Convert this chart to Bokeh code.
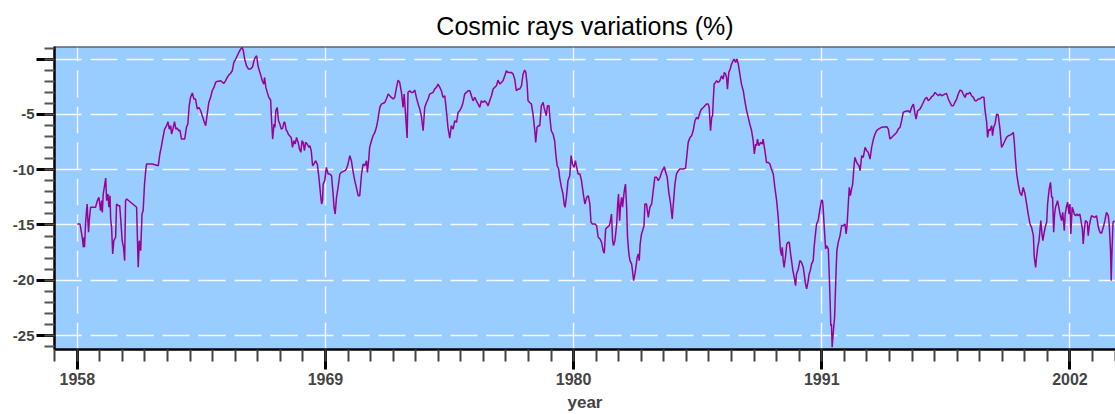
from bokeh.plotting import figure
from bokeh.models import FixedTicker, Span
from bokeh.embed import file_html
from bokeh.resources import INLINE

# ---- data ----
years = [
1958.00,1958.12,1958.22,1958.27,1958.30,1958.32,1958.37,1958.41,1958.44,1958.47,1958.50,1958.53,1958.59,1958.81,1958.89,1958.96,
1959.03,1959.08,1959.11,1959.15,1959.21,1959.26,1959.30,1959.36,1959.40,1959.45,1959.48,1959.52,1959.57,1959.62,1959.70,1959.74,
1959.82,1959.88,1959.92,1959.99,1960.05,1960.10,1960.14,1960.19,1960.63,1960.66,1960.70,1960.75,1960.81,1960.87,1960.92,1960.98,
1961.04,1961.07,1961.32,1961.59,1961.66,1961.72,1961.80,1961.87,1961.96,1962.02,1962.08,1962.14,1962.18,1962.24,1962.31,1962.37,
1962.43,1962.49,1962.55,1962.62,1962.76,1962.84,1962.90,1962.96,1963.02,1963.10,1963.17,1963.24,1963.32,1963.39,1963.47,1963.54,
1963.61,1963.69,1963.76,1963.83,1963.91,1963.98,1964.06,1964.13,1964.20,1964.35,1964.50,1964.57,1964.65,1964.72,1964.79,1964.87,
1964.94,1965.02,1965.09,1965.16,1965.24,1965.31,1965.36,1965.42,1965.50,1965.59,1965.68,1965.77,1965.83,1965.89,1965.95,1966.01,
1966.07,1966.12,1966.20,1966.27,1966.30,1966.36,1966.42,1966.49,1966.57,1966.61,1966.66,1966.72,1966.76,1966.80,1966.86,1966.92,
1966.98,1967.04,1967.10,1967.16,1967.20,1967.26,1967.31,1967.35,1967.41,1967.48,1967.54,1967.60,1967.66,1967.72,1967.79,1967.85,
1967.91,1967.96,1968.01,1968.07,1968.12,1968.19,1968.27,1968.31,1968.37,1968.43,1968.49,1968.56,1968.64,1968.71,1968.78,1968.83,
1968.87,1968.90,1968.97,1969.04,1969.12,1969.19,1969.27,1969.34,1969.38,1969.43,1969.49,1969.56,1969.64,1969.71,1969.86,1969.93,
1970.00,1970.08,1970.15,1970.23,1970.30,1970.37,1970.45,1970.52,1970.60,1970.67,1970.74,1970.82,1970.86,1970.92,1970.96,1971.04,
1971.11,1971.19,1971.26,1971.33,1971.41,1971.48,1971.63,1971.70,1971.78,1971.85,1971.92,1972.00,1972.07,1972.15,1972.22,1972.29,
1972.37,1972.44,1972.49,1972.56,1972.62,1972.66,1972.74,1972.81,1972.88,1972.96,1973.03,1973.11,1973.18,1973.25,1973.33,1973.40,
1973.48,1973.55,1973.62,1973.77,1973.84,1973.92,1973.99,1974.07,1974.14,1974.21,1974.29,1974.33,1974.39,1974.43,1974.51,1974.58,
1974.66,1974.73,1974.81,1974.88,1974.95,1975.03,1975.10,1975.17,1975.25,1975.32,1975.40,1975.47,1975.54,1975.62,1975.69,1975.77,
1975.84,1975.91,1975.99,1976.06,1976.13,1976.21,1976.28,1976.36,1976.43,1976.50,1976.58,1976.65,1976.73,1976.80,1976.87,1976.95,
1977.02,1977.09,1977.24,1977.32,1977.39,1977.46,1977.54,1977.61,1977.69,1977.76,1977.83,1977.88,1977.94,1977.98,1978.05,1978.13,
1978.20,1978.28,1978.32,1978.38,1978.44,1978.50,1978.57,1978.65,1978.69,1978.73,1978.79,1978.84,1978.91,1978.94,1979.01,1979.09,
1979.16,1979.21,1979.27,1979.34,1979.38,1979.46,1979.53,1979.58,1979.62,1979.68,1979.75,1979.83,1979.89,1979.95,1980.02,1980.08,
1980.12,1980.20,1980.28,1980.35,1980.43,1980.50,1980.58,1980.65,1980.72,1980.77,1980.84,1980.95,1981.02,1981.09,1981.17,1981.24,
1981.31,1981.36,1981.42,1981.49,1981.58,1981.62,1981.68,1981.73,1981.77,1981.83,1981.91,1981.95,1981.99,1982.04,1982.08,1982.13,
1982.17,1982.23,1982.27,1982.30,1982.35,1982.39,1982.45,1982.50,1982.57,1982.61,1982.66,1982.72,1982.76,1982.82,1982.87,1982.91,
1982.95,1983.01,1983.06,1983.12,1983.16,1983.23,1983.31,1983.38,1983.46,1983.53,1983.60,1983.68,1983.75,1983.83,1983.90,1983.97,
1984.02,1984.08,1984.15,1984.22,1984.30,1984.37,1984.42,1984.49,1984.56,1984.64,1984.71,1984.86,1984.96,1985.02,1985.08,1985.16,
1985.23,1985.30,1985.38,1985.45,1985.52,1985.60,1985.67,1985.75,1985.82,1985.89,1985.97,1986.01,1986.07,1986.12,1986.16,1986.19,
1986.23,1986.29,1986.34,1986.41,1986.48,1986.56,1986.63,1986.68,1986.74,1986.78,1986.82,1986.88,1986.94,1987.00,1987.07,1987.12,
1987.18,1987.24,1987.30,1987.37,1987.44,1987.52,1987.59,1987.67,1987.74,1987.81,1987.89,1987.96,1988.01,1988.07,1988.11,1988.15,
1988.21,1988.29,1988.36,1988.40,1988.48,1988.55,1988.63,1988.70,1988.77,1988.85,1988.92,1989.00,1989.07,1989.11,1989.17,1989.22,
1989.25,1989.29,1989.33,1989.39,1989.45,1989.51,1989.56,1989.62,1989.66,1989.72,1989.78,1989.84,1989.88,1989.96,1990.03,1990.10,
1990.18,1990.22,1990.28,1990.33,1990.40,1990.44,1990.49,1990.55,1990.62,1990.66,1990.72,1990.77,1990.84,1990.92,1990.99,1991.03,
1991.06,1991.11,1991.17,1991.21,1991.29,1991.33,1991.37,1991.40,1991.43,1991.46,1991.52,1991.57,1991.63,1991.67,1991.73,1991.81,
1991.88,1991.96,1992.03,1992.08,1992.12,1992.18,1992.22,1992.27,1992.32,1992.37,1992.43,1992.47,1992.55,1992.59,1992.65,1992.70,
1992.77,1992.84,1992.92,1992.99,1993.06,1993.14,1993.21,1993.29,1993.36,1993.43,1993.51,1993.65,1993.88,1993.95,1994.02,1994.10,
1994.17,1994.25,1994.32,1994.39,1994.47,1994.54,1994.61,1994.69,1994.84,1994.91,1994.98,1995.06,1995.13,1995.18,1995.25,1995.35,
1995.43,1995.50,1995.57,1995.65,1995.72,1995.80,1995.87,1995.94,1996.02,1996.09,1996.17,1996.24,1996.31,1996.46,1996.53,1996.61,
1996.68,1996.76,1996.83,1996.90,1996.98,1997.05,1997.13,1997.20,1997.27,1997.35,1997.42,1997.49,1997.57,1997.64,1997.72,1997.79,
1997.86,1997.94,1998.01,1998.09,1998.19,1998.23,1998.31,1998.35,1998.41,1998.45,1998.53,1998.57,1998.62,1998.68,1998.75,1998.82,
1998.90,1998.97,1999.05,1999.12,1999.19,1999.27,1999.34,1999.42,1999.49,1999.53,1999.59,1999.64,1999.71,1999.78,1999.86,1999.93,
2000.01,2000.08,2000.15,2000.23,2000.30,2000.38,2000.42,2000.48,2000.52,2000.57,2000.63,2000.67,2000.71,2000.76,2000.80,2000.86,
2000.92,2000.97,2001.01,2001.04,2001.08,2001.14,2001.19,2001.23,2001.28,2001.32,2001.36,2001.41,2001.45,2001.51,2001.56,2001.63,
2001.68,2001.75,2001.79,2001.84,2001.90,2001.96,2002.00,2002.04,2002.10,2002.15,2002.19,2002.25,2002.31,2002.37,2002.44,2002.49,
2002.55,2002.59,2002.64,2002.69,2002.77,2002.81,2002.86,2002.92,2002.96,2003.03,2003.11,2003.18,2003.26,2003.33,2003.40,2003.48,
2003.55,2003.62,2003.70,2003.74,2003.80,2003.83,2003.86,2003.91,2003.97,
]

variation = [
-14.91,-14.91,-16.11,-17.02,-16.11,-17.02,-14.76,-13.70,-13.10,-14.61,-15.66,-14.61,-13.40,-13.40,-12.80,-12.50,
-13.70,-12.80,-13.86,-12.20,-11.45,-10.75,-12.80,-12.20,-13.40,-12.35,-14.46,-15.21,-17.62,-16.42,-16.11,-13.10,
-13.25,-13.25,-14.31,-16.42,-17.02,-18.22,-12.80,-12.65,-13.40,-15.81,-18.83,-16.42,-17.32,-14.01,-13.70,-11.30,
-9.94,-9.49,-9.49,-9.64,-8.58,-7.98,-7.08,-6.33,-6.02,-5.66,-6.33,-6.02,-6.78,-6.33,-5.66,-6.33,
-6.23,-6.48,-6.42,-7.23,-7.23,-6.17,-5.87,-4.22,-3.46,-3.07,-3.61,-3.61,-4.52,-4.37,-4.67,-5.12,
-5.57,-6.02,-4.97,-3.92,-3.46,-2.86,-2.56,-2.11,-2.02,-1.96,-2.20,-1.96,-1.66,-1.42,-1.30,-1.05,
-0.30,0.00,0.30,0.60,0.90,1.05,0.75,0.00,-0.60,-0.90,-0.90,-0.69,-0.15,0.15,0.30,-0.60,
-1.05,-1.36,-1.96,-2.26,-1.66,-2.56,-3.01,-3.46,-3.70,-5.48,-7.23,-5.87,-6.17,-4.67,-4.37,-5.57,
-5.87,-6.33,-6.27,-5.72,-5.72,-6.42,-6.54,-6.78,-6.93,-7.08,-7.98,-7.38,-7.68,-7.08,-7.53,-8.13,
-8.43,-7.38,-7.53,-8.28,-7.53,-7.68,-7.98,-7.83,-8.28,-9.64,-9.49,-9.19,-9.49,-10.69,-12.20,-13.10,
-12.80,-11.30,-10.99,-9.79,-10.39,-10.39,-10.54,-12.20,-13.40,-14.01,-12.50,-11.60,-10.39,-10.24,-10.09,-9.94,
-9.49,-8.73,-9.19,-10.24,-10.99,-11.60,-12.35,-12.35,-10.39,-9.49,-9.64,-9.19,-10.24,-9.04,-7.98,-7.38,
-6.93,-6.63,-6.17,-5.42,-4.37,-4.07,-3.92,-3.61,-3.16,-3.31,-3.46,-3.61,-3.46,-2.56,-1.90,-2.11,
-3.01,-4.37,-3.16,-5.27,-7.14,-3.01,-2.86,-3.01,-3.01,-2.80,-3.46,-4.07,-4.52,-5.12,-6.48,-4.37,
-3.92,-3.61,-3.16,-3.01,-2.71,-2.56,-2.26,-2.56,-2.86,-3.46,-3.31,-4.07,-5.27,-6.17,-7.14,-6.02,
-6.33,-5.57,-5.72,-4.82,-4.67,-4.37,-3.92,-3.16,-3.01,-2.86,-2.86,-3.31,-3.77,-3.46,-3.77,-4.07,
-4.37,-3.77,-3.92,-3.77,-3.92,-4.22,-3.77,-3.31,-2.71,-2.56,-2.41,-1.90,-2.26,-2.11,-1.96,-1.51,
-1.05,-1.20,-1.20,-1.36,-1.81,-2.86,-2.71,-2.71,-2.41,-1.36,-0.99,-1.20,-2.26,-3.77,-3.92,-4.07,
-4.97,-6.48,-7.53,-6.17,-6.02,-6.02,-4.22,-3.92,-4.37,-4.67,-5.12,-4.22,-4.22,-5.12,-6.48,-6.78,
-7.38,-8.58,-9.64,-9.94,-10.69,-11.60,-12.20,-13.10,-13.40,-12.50,-10.99,-10.54,-8.73,-9.49,-9.79,-9.19,
-9.64,-10.39,-10.39,-10.99,-12.20,-13.10,-12.50,-12.35,-13.10,-14.76,-14.91,-14.91,-15.06,-16.11,-16.27,-16.57,
-17.32,-17.56,-15.36,-15.21,-15.06,-14.76,-14.01,-16.42,-16.87,-16.42,-14.91,-13.25,-12.20,-14.61,-13.25,-12.50,
-13.40,-12.20,-11.60,-11.30,-13.40,-16.11,-17.62,-18.22,-18.52,-19.13,-20.03,-19.43,-18.83,-17.92,-17.62,-18.22,
-16.72,-15.81,-15.51,-15.06,-13.10,-13.10,-14.31,-13.40,-13.10,-11.90,-10.69,-10.69,-10.99,-10.69,-10.24,-9.94,
-9.73,-10.24,-10.69,-12.05,-13.10,-14.46,-13.10,-11.30,-10.39,-10.09,-9.94,-9.94,-9.88,-8.73,-7.53,-7.08,
-6.93,-6.48,-5.57,-5.27,-5.42,-4.82,-4.52,-4.37,-4.22,-4.07,-4.07,-4.37,-6.48,-5.27,-5.12,-3.77,
-2.26,-2.11,-1.96,-2.11,-1.96,-1.51,-1.81,-1.20,-1.36,-1.66,-2.71,-1.20,-0.90,-0.45,-0.15,0.00,
-0.30,0.00,-0.45,-1.36,-2.26,-2.86,-3.77,-4.67,-5.27,-5.87,-6.48,-7.38,-8.58,-7.68,-7.83,-7.23,
-7.83,-7.53,-7.68,-7.23,-8.28,-9.34,-9.34,-9.49,-9.94,-10.39,-11.60,-12.80,-14.31,-15.66,-17.32,-17.77,
-17.02,-18.22,-18.83,-17.92,-16.72,-16.57,-16.57,-17.62,-18.22,-19.13,-19.73,-20.48,-19.43,-18.98,-18.22,-18.37,
-18.83,-19.43,-20.33,-20.78,-20.03,-19.43,-19.13,-18.52,-18.22,-17.02,-15.81,-14.91,-14.61,-13.55,-12.74,-12.80,
-13.40,-15.21,-17.17,-16.87,-17.17,-19.43,-21.84,-24.10,-23.95,-26.05,-24.50,-23.30,-19.43,-17.32,-16.57,-15.96,
-15.06,-15.06,-14.91,-15.81,-15.06,-12.95,-11.60,-12.35,-11.75,-11.30,-9.64,-8.89,-9.34,-9.49,-9.64,-10.09,
-8.73,-8.89,-7.98,-8.28,-8.43,-9.04,-7.98,-7.23,-6.78,-6.48,-6.33,-6.17,-6.11,-6.33,-7.23,-7.08,
-6.93,-6.78,-6.63,-6.33,-6.17,-5.57,-4.82,-4.73,-4.67,-4.82,-4.37,-4.07,-4.91,-5.42,-4.67,-4.52,
-4.22,-3.92,-3.61,-3.46,-3.77,-3.61,-3.40,-3.31,-3.01,-3.16,-3.31,-3.16,-3.31,-3.16,-3.10,-3.61,
-3.92,-4.22,-4.22,-3.92,-3.61,-3.16,-2.80,-2.86,-3.16,-3.46,-3.10,-3.16,-3.01,-3.31,-3.46,-3.77,
-3.77,-3.61,-3.61,-3.46,-3.46,-4.52,-5.72,-7.08,-6.33,-6.48,-6.02,-6.93,-6.17,-5.87,-4.97,-5.03,
-6.33,-7.98,-7.68,-7.38,-7.08,-6.93,-6.87,-6.78,-6.63,-7.38,-9.19,-10.39,-11.30,-12.05,-12.35,-11.60,
-12.20,-13.10,-14.01,-14.91,-15.21,-15.96,-17.92,-18.83,-17.92,-17.02,-16.42,-15.51,-14.61,-15.81,-16.42,-15.66,
-15.06,-14.76,-13.10,-12.50,-11.75,-11.14,-12.50,-12.50,-15.66,-14.01,-13.40,-13.10,-12.80,-13.40,-14.01,-14.61,
-13.86,-15.51,-14.01,-13.40,-12.95,-14.01,-13.10,-15.81,-13.40,-13.70,-14.01,-14.16,-14.01,-14.16,-14.01,-14.61,
-15.36,-16.72,-15.36,-14.61,-14.76,-15.96,-15.06,-14.46,-14.16,-14.25,-14.31,-14.16,-15.21,-15.66,-15.75,-15.21,
-14.61,-13.86,-14.16,-14.91,-17.32,-20.03,-17.62,-14.76,-14.61,
]

x_major = [1958, 1969, 1980, 1991, 2002]
x_minor = list(range(1957, 2005))
y_major = [-25, -20, -15, -10, -5, 0]
y_labels = ["-25", "-20", "-15", "-10", "-5", ""]
y_minor = list(range(-26, 2))

title_text = "Cosmic rays variations (%)"
x_label = "year"

p = figure(width=1115, height=414, output_backend="svg", toolbar_location=None,
           x_range=(1956.99, 2004.02), y_range=(-26.26, 1.14),
           min_border_left=54, min_border_right=0, min_border_top=46, min_border_bottom=65,
           background_fill_color="#99CCFF", border_fill_color="white",
           outline_line_color=None)

p.title.text = title_text
p.title.align = "center"
p.title.text_font = "Liberation Sans"
p.title.text_font_style = "normal"
p.title.text_font_size = "25px"
p.title.text_color = "black"
p.title.standoff = 14

p.line(years, variation, line_color="#990099", line_width=1.5)

p.add_layout(Span(location=1.14, dimension="width", line_color="#333333", line_width=2))

xa = p.xaxis[0]
xa.ticker = FixedTicker(ticks=x_major, minor_ticks=x_minor)
xa.major_label_overrides = {t: str(t) for t in x_major}
xa.axis_label = x_label
xa.axis_label_text_font = "Liberation Sans"
xa.axis_label_text_font_style = "bold"
xa.axis_label_text_font_size = "17px"
xa.axis_label_standoff = 5
xa.major_label_text_font = "Liberation Sans"
xa.major_label_text_font_style = "bold"
xa.major_label_text_font_size = "16px"
xa.major_label_standoff = 3
xa.axis_line_color = "black"
xa.axis_line_width = 2.5
xa.major_tick_line_color = "black"
xa.major_tick_line_width = 3
xa.major_tick_out = 20
xa.major_tick_in = 0
xa.minor_tick_line_color = "#444444"
xa.minor_tick_line_width = 2
xa.minor_tick_out = 12
xa.minor_tick_in = 0

ya = p.yaxis[0]
ya.ticker = FixedTicker(ticks=y_major, minor_ticks=y_minor)
ya.major_label_overrides = dict(zip(y_major, y_labels))
ya.major_label_text_font = "Liberation Sans"
ya.major_label_text_font_style = "bold"
ya.major_label_text_font_size = "15px"
ya.major_label_standoff = 2
ya.axis_line_color = "black"
ya.axis_line_width = 2.5
ya.major_tick_line_color = "black"
ya.major_tick_line_width = 3
ya.major_tick_out = 18
ya.major_tick_in = 0
ya.minor_tick_line_color = "#555555"
ya.minor_tick_line_width = 2
ya.minor_tick_out = 10
ya.minor_tick_in = 0

for g in (p.xgrid[0], p.ygrid[0]):
    g.grid_line_color = "white"
    g.grid_line_alpha = 0.9
    g.grid_line_width = 1.5
    g.grid_line_dash = "27 9"

open("out.html", "w").write(file_html(p, INLINE))
